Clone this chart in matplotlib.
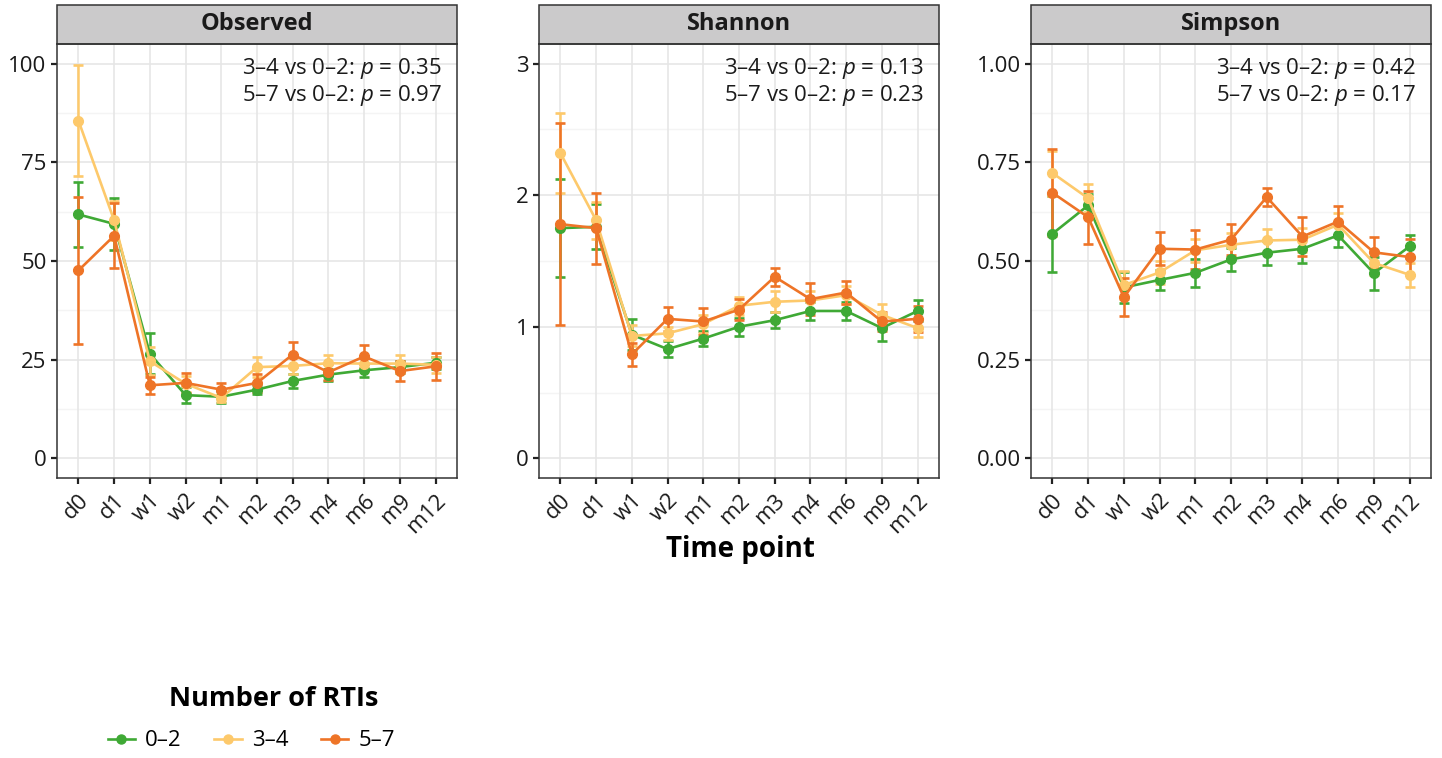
import matplotlib.pyplot as plt
from matplotlib.lines import Line2D
from matplotlib.patches import Rectangle

plt.rcParams['font.family'] = ['Open Sans', 'DejaVu Sans']
plt.rcParams['mathtext.fontset'] = 'custom'
plt.rcParams['mathtext.rm'] = 'Open Sans'
plt.rcParams['mathtext.it'] = 'Open Sans:italic'

puntos = ['d0', 'd1', 'w1', 'w2', 'm1', 'm2', 'm3', 'm4', 'm6', 'm9', 'm12']
grupos = ['0–2', '3–4', '5–7']
colores = ['#3fa935', '#fdc96b', '#ee7427']

# Observed
obs_media = {
    '0–2': [61.8, 59.4, 26.5, 16.0, 15.6, 17.4, 19.6, 21.2, 22.3, 23.1, 24.2],
    '3–4': [85.6, 60.3, 24.6, 18.9, 15.3, 23.1, 23.4, 24.1, 24.0, 24.0, 23.7],
    '5–7': [47.6, 56.4, 18.5, 19.1, 17.4, 19.1, 26.3, 21.8, 25.8, 22.1, 23.3],
}
obs_err = {
    '0–2': [8.3, 6.6, 5.2, 2.0, 1.5, 1.2, 1.8, 1.5, 1.7, 1.5, 1.5],
    '3–4': [14.0, 5.0, 3.5, 2.0, 1.0, 2.5, 2.0, 2.0, 2.0, 2.3, 2.0],
    '5–7': [18.7, 8.3, 2.2, 2.5, 1.7, 2.3, 3.2, 2.0, 2.8, 2.5, 3.4],
}

# Shannon
sha_media = {
    '0–2': [1.75, 1.76, 0.94, 0.83, 0.91, 1.00, 1.05, 1.12, 1.12, 0.99, 1.12],
    '3–4': [2.32, 1.81, 0.93, 0.95, 1.02, 1.16, 1.19, 1.20, 1.24, 1.09, 0.99],
    '5–7': [1.78, 1.75, 0.79, 1.06, 1.04, 1.13, 1.38, 1.21, 1.26, 1.04, 1.06],
}
sha_err = {
    '0–2': [0.375, 0.17, 0.12, 0.06, 0.06, 0.07, 0.06, 0.07, 0.07, 0.10, 0.08],
    '3–4': [0.305, 0.14, 0.08, 0.05, 0.07, 0.07, 0.08, 0.07, 0.07, 0.08, 0.07],
    '5–7': [0.77, 0.27, 0.085, 0.09, 0.10, 0.08, 0.07, 0.12, 0.09, 0.07, 0.10],
}

# Simpson
sim_media = {
    '0–2': [0.569, 0.641, 0.433, 0.452, 0.470, 0.504, 0.521, 0.531, 0.565, 0.469, 0.537],
    '3–4': [0.723, 0.659, 0.439, 0.471, 0.527, 0.541, 0.552, 0.554, 0.592, 0.495, 0.465],
    '5–7': [0.673, 0.611, 0.408, 0.531, 0.529, 0.554, 0.662, 0.562, 0.600, 0.522, 0.510],
}
sim_err = {
    '0–2': [0.097, 0.030, 0.040, 0.025, 0.035, 0.030, 0.030, 0.035, 0.030, 0.042, 0.030],
    '3–4': [0.057, 0.035, 0.035, 0.030, 0.030, 0.030, 0.030, 0.030, 0.030, 0.030, 0.030],
    '5–7': [0.110, 0.067, 0.048, 0.042, 0.050, 0.040, 0.022, 0.050, 0.040, 0.040, 0.045],
}

paneles = [
    ('Observed', obs_media, obs_err, [0, 25, 50, 75, 100], ['0', '25', '50', '75', '100'],
     (-5.0, 105.0), ['0.35', '0.97']),
    ('Shannon', sha_media, sha_err, [0, 1, 2, 3], ['0', '1', '2', '3'],
     (-0.15, 3.15), ['0.13', '0.23']),
    ('Simpson', sim_media, sim_err, [0, 0.25, 0.5, 0.75, 1.0], ['0.00', '0.25', '0.50', '0.75', '1.00'],
     (-0.05, 1.05), ['0.42', '0.17']),
]

W, H = 1442, 758
fig = plt.figure(figsize=(W / 100, H / 100), dpi=100)

izquierdas = [57, 539, 1031]
ancho = 400
arriba, abajo = 44, 478
franja = 39

x = list(range(1, len(puntos) + 1))

for izq, (nombre, media, err, yt, ytl, ylim, pvals) in zip(izquierdas, paneles):
    ax = fig.add_axes([izq / W, 1 - abajo / H, ancho / W, (abajo - arriba) / H])
    ax.set_xlim(0.4, len(puntos) + 0.6)
    ax.set_ylim(*ylim)

    # rejilla estilo theme_bw
    menores = [(yt[i] + yt[i + 1]) / 2 for i in range(len(yt) - 1)]
    for v in menores:
        ax.axhline(v, color='#f4f4f4', lw=1.0, zorder=0)
    for v in yt:
        ax.axhline(v, color='#e6e6e6', lw=1.2, zorder=0)
    for v in x:
        ax.axvline(v, color='#e6e6e6', lw=1.2, zorder=0)

    for g, c in zip(grupos, colores):
        ax.errorbar(x, media[g], yerr=err[g], color=c, lw=1.9, capsize=3.8, capthick=1.9,
                    elinewidth=1.8, marker='o', markersize=7, zorder=3)

    ax.set_xticks(x)
    ax.set_xticklabels(puntos, rotation=45, ha='right', va='top', rotation_mode='anchor')
    ax.set_yticks(yt)
    ax.set_yticklabels(ytl)
    ax.tick_params(axis='both', length=4.5, width=1.6, color='#222222', labelsize=16,
                   labelcolor='#1a1a1a', pad=3)
    ax.tick_params(axis='x', pad=4)
    for s in ax.spines.values():
        s.set_color('#333333')
        s.set_linewidth(1.1)

    texto = (f'3–4 vs 0–2: $p$ = {pvals[0]}\n'
             f'5–7 vs 0–2: $p$ = {pvals[1]}')
    ax.text(0.963, 0.972, texto, transform=ax.transAxes, ha='right', va='top',
            fontsize=16, linespacing=1.08, color='#1a1a1a')

    # franja del título del panel
    alto = franja / (abajo - arriba)
    ax.add_patch(Rectangle((0, 1), 1, alto, transform=ax.transAxes, clip_on=False,
                           facecolor='#cbcacb', edgecolor='#333333', lw=1.1))
    ax.text(0.5, 1 + alto / 2, nombre, transform=ax.transAxes, ha='center', va='center',
            fontsize=17, fontweight='bold', color='#1a1a1a')

fig.text(740 / W, 1 - 550 / H, 'Time point', ha='center', va='center',
         fontsize=20, fontweight='bold')

# leyenda: título aparte y entradas en una fila
fig.text(274 / W, 1 - 699 / H, 'Number of RTIs', ha='center', va='center',
         fontsize=19.5, fontweight='bold')
manijas = [Line2D([0], [0], color=c, lw=1.9, marker='o', markersize=6.5) for c in colores]
fig.legend(manijas, grupos, ncol=3, frameon=False, loc='center left',
           bbox_to_anchor=(92 / W, 1 - 741 / H), fontsize=16,
           handlelength=1.25, handletextpad=0.45, columnspacing=1.45,
           borderpad=0.2)

fig.savefig('out.png', dpi=100)
